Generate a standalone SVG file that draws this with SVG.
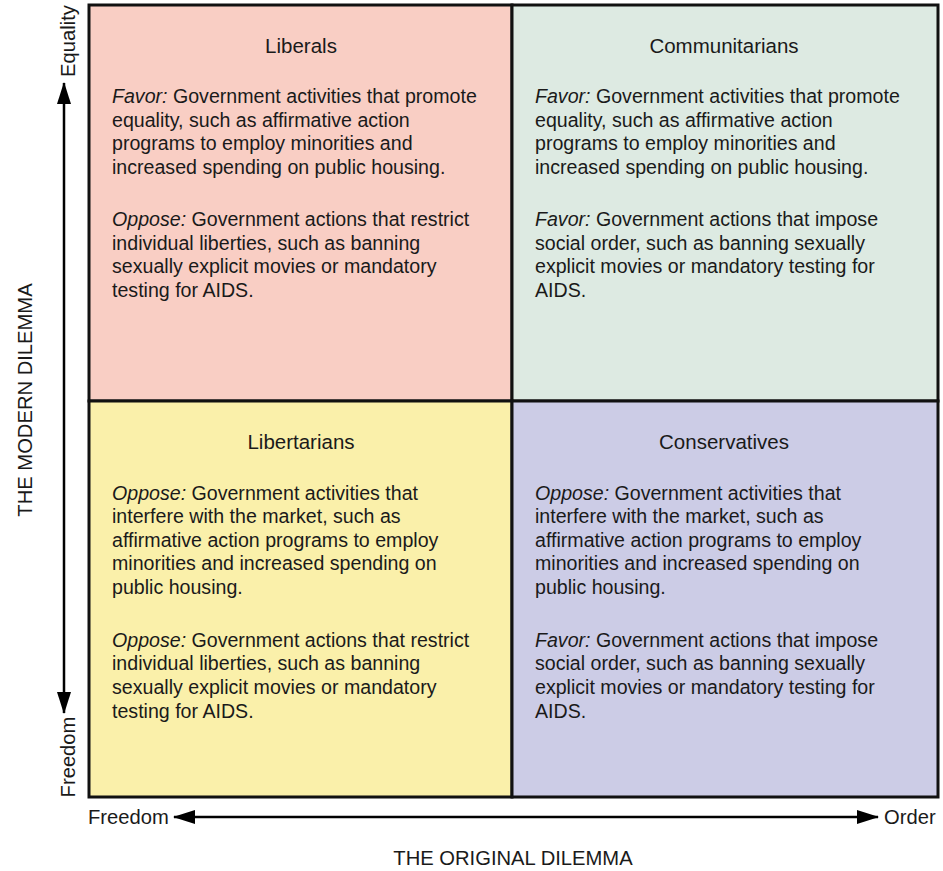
<svg xmlns="http://www.w3.org/2000/svg" width="943" height="871" viewBox="0 0 943 871">
<defs>
<style>
text{font-family:"Liberation Sans",Arial,sans-serif;fill:#1a1a1a}
.t{font-size:20.5px;text-anchor:middle}
.b{font-size:19.6px}
.i{font-style:italic}
.ax{font-size:20.2px}
.q{stroke:#111;stroke-width:3}
.ar{stroke:#000;stroke-width:2.5;fill:none}
</style>
<marker id="ah" viewBox="0 0 22 14" refX="21" refY="7" markerWidth="22" markerHeight="14" markerUnits="userSpaceOnUse" orient="auto">
<path d="M0,0 L22,7 L0,14 Z" fill="#000"/>
</marker>
</defs>
<g id="liberals">
<rect class="q" x="89" y="5" width="423" height="396" fill="#F9CEC4"/>
<text class="t" x="301" y="53">Liberals</text>
<text class="b"><tspan x="112" y="103"><tspan class="i">Favor:</tspan> Government activities that promote</tspan><tspan x="112" y="127">equality, such as affirmative action</tspan><tspan x="112" y="150">programs to employ minorities and</tspan><tspan x="112" y="174">increased spending on public housing.</tspan></text>
<text class="b"><tspan x="112" y="226"><tspan class="i">Oppose:</tspan> Government actions that restrict</tspan><tspan x="112" y="250">individual liberties, such as banning</tspan><tspan x="112" y="273">sexually explicit movies or mandatory</tspan><tspan x="112" y="297">testing for AIDS.</tspan></text>
</g>
<g id="communitarians">
<rect class="q" x="512" y="5" width="426" height="396" fill="#DDEAE2"/>
<text class="t" x="724" y="53">Communitarians</text>
<text class="b"><tspan x="535" y="103"><tspan class="i">Favor:</tspan> Government activities that promote</tspan><tspan x="535" y="127">equality, such as affirmative action</tspan><tspan x="535" y="150">programs to employ minorities and</tspan><tspan x="535" y="174">increased spending on public housing.</tspan></text>
<text class="b"><tspan x="535" y="226"><tspan class="i">Favor:</tspan> Government actions that impose</tspan><tspan x="535" y="250">social order, such as banning sexually</tspan><tspan x="535" y="273">explicit movies or mandatory testing for</tspan><tspan x="535" y="297">AIDS.</tspan></text>
</g>
<g id="libertarians">
<rect class="q" x="89" y="401" width="423" height="396" fill="#FAF0AA"/>
<text class="t" x="301" y="449">Libertarians</text>
<text class="b"><tspan x="112" y="500"><tspan class="i">Oppose:</tspan> Government activities that</tspan><tspan x="112" y="523">interfere with the market, such as</tspan><tspan x="112" y="547">affirmative action programs to employ</tspan><tspan x="112" y="570">minorities and increased spending on</tspan><tspan x="112" y="594">public housing.</tspan></text>
<text class="b"><tspan x="112" y="647"><tspan class="i">Oppose:</tspan> Government actions that restrict</tspan><tspan x="112" y="670">individual liberties, such as banning</tspan><tspan x="112" y="694">sexually explicit movies or mandatory</tspan><tspan x="112" y="718">testing for AIDS.</tspan></text>
</g>
<g id="conservatives">
<rect class="q" x="512" y="401" width="426" height="396" fill="#CCCCE6"/>
<text class="t" x="724" y="449">Conservatives</text>
<text class="b"><tspan x="535" y="500"><tspan class="i">Oppose:</tspan> Government activities that</tspan><tspan x="535" y="523">interfere with the market, such as</tspan><tspan x="535" y="547">affirmative action programs to employ</tspan><tspan x="535" y="570">minorities and increased spending on</tspan><tspan x="535" y="594">public housing.</tspan></text>
<text class="b"><tspan x="535" y="647"><tspan class="i">Favor:</tspan> Government actions that impose</tspan><tspan x="535" y="670">social order, such as banning sexually</tspan><tspan x="535" y="694">explicit movies or mandatory testing for</tspan><tspan x="535" y="718">AIDS.</tspan></text>
</g>
<g id="connectors">
<line class="ar" x1="64" y1="400" x2="64" y2="83" marker-end="url(#ah)"/>
<line class="ar" x1="64" y1="400" x2="64" y2="713" marker-end="url(#ah)"/>
<line class="ar" x1="520" y1="817" x2="174" y2="817" marker-end="url(#ah)"/>
<line class="ar" x1="520" y1="817" x2="878" y2="817" marker-end="url(#ah)"/>
</g>
<g id="axis-labels">
<text class="ax" transform="translate(75,41) rotate(-90)" text-anchor="middle">Equality</text>
<text class="ax" transform="translate(75,757) rotate(-90)" text-anchor="middle">Freedom</text>
<text class="ax" x="88" y="824">Freedom</text>
<text class="ax" x="884" y="824">Order</text>
<text class="ax" x="513" y="865" text-anchor="middle">THE ORIGINAL DILEMMA</text>
<text class="ax" transform="translate(32,400) rotate(-90)" text-anchor="middle">THE MODERN DILEMMA</text>
</g>
</svg>
